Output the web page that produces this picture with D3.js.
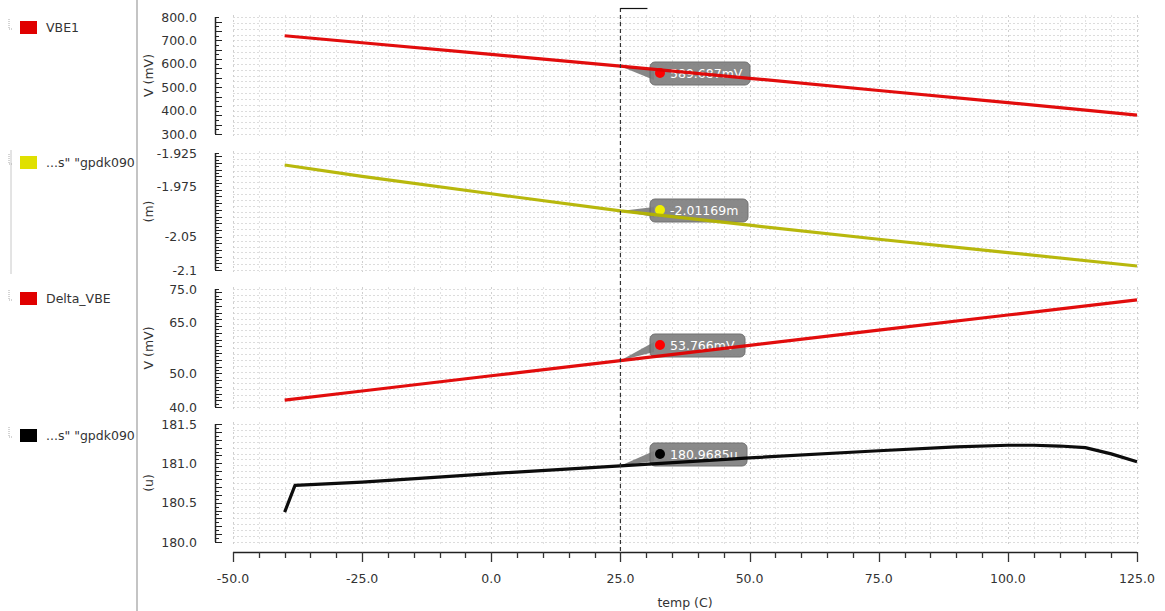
<!DOCTYPE html>
<html><head><meta charset="utf-8">
<script src="https://cdn.jsdelivr.net/npm/d3@7"></script>
<style>
body{margin:0;background:#fff;}
text{font-family:"DejaVu Sans",sans-serif;}
</style></head>
<body><svg id="c" width="1165" height="611"></svg>
<script>
// ---- data ----
const xTicks = [-50, -25, 0, 25, 50, 75, 100, 125];
const cursorTemp = 25;

const vbe1Temp = [-40, -25, 0, 25, 50, 75, 100, 125];
const vbe1 = [720, 690, 640, 589.687, 538, 486, 434, 381];

const slopeTemp = [-40, -25, 0, 25, 50, 75, 100, 125];
const slope = [-1.943, -1.960, -1.986, -2.01169, -2.033, -2.054, -2.074, -2.094];

const dvbeTemp = [-40, -25, 0, 25, 50, 75, 100, 125];
const dvbe = [42.04, 44.75, 49.26, 53.766, 58.27, 62.78, 67.29, 71.80];

const betaTemp = [-40, -38, -25, 0, 25, 50, 75, 90, 100, 105, 110, 115, 120, 125];
const beta = [180.38, 180.72, 180.76, 180.87, 180.9685, 181.07, 181.16, 181.21, 181.23, 181.23, 181.22, 181.20, 181.12, 181.02];

const legendNames = ["VBE1", "...s\" \"gpdk090", "Delta_VBE", "...s\" \"gpdk090"];
const yTitles = ["V (mV)", "(m)", "V (mV)", "(u)"];
const markerLabels = ["589.687mV", "-2.01169m", "53.766mV", "180.9685u"];
const yTickSets = [[800, 700, 600, 500, 400, 300], [-1.925, -1.975, -2.05, -2.1], [75, 65, 50, 40], [181.5, 181.0, 180.5, 180.0]];
const yTickLabels = [["800.0","700.0","600.0","500.0","400.0","300.0"], ["-1.925","-1.975","-2.05","-2.1"], ["75.0","65.0","50.0","40.0"], ["181.5","181.0","180.5","180.0"]];

// ---- layout ----
const svg = d3.select("#c");
const x = d3.scaleLinear().domain([-50, 125]).range([233, 1137]);
const panels = [
  {temp: vbe1Temp, vals: vbe1, domain: [300, 800], range: [134, 17], minor: 20, grid: 25, color: "#e00000", sq: "#e00000", dot: "#ff0000", legY: 28},
  {temp: slopeTemp, vals: slope, domain: [-2.1, -1.925], range: [270, 153], minor: 0.005, grid: 0.00875, color: "#b4b400", sq: "#e0e000", dot: "#f0f000", legY: 163},
  {temp: dvbeTemp, vals: dvbe, domain: [40, 75], range: [407, 289], minor: 1, grid: 1.75, color: "#e00000", sq: "#e00000", dot: "#ff0000", legY: 299},
  {temp: betaTemp, vals: beta, domain: [180, 181.5], range: [542, 424], minor: 0.05, grid: 0.075, color: "#000000", sq: "#000000", dot: "#000000", legY: 436}
];

// left separator
svg.append("line").attr("x1",137).attr("x2",137).attr("y1",0).attr("y2",611).attr("stroke","#b0b0b0").attr("stroke-width",1.5);
svg.append("line").attr("x1",11).attr("x2",11).attr("y1",150).attr("y2",274).attr("stroke","#c8c8c8");

const xMinor = d3.range(-50, 125.01, 5);

panels.forEach((p, i) => {
  const y = d3.scaleLinear().domain(p.domain).range(p.range);
  const g = svg.append("g");
  const top = p.range[1] - 2, bot = p.range[0] + 2;
  const nMin = Math.round((p.domain[1]-p.domain[0])/p.minor);
  const minorTicks = d3.range(0, nMin+1).map(k => p.domain[0] + k*p.minor);
  const nGrid = Math.round((p.domain[1]-p.domain[0])/p.grid);
  const hgrid = d3.range(0, nGrid+1).map(k => p.domain[0] + k*p.grid);
  g.selectAll(".hg").data(hgrid).join("line")
    .attr("x1", 233).attr("x2", 1140)
    .attr("y1", d => Math.round(y(d))+0.5).attr("y2", d => Math.round(y(d))+0.5)
    .attr("stroke", "#dcdcdc").attr("stroke-dasharray", "2,2").attr("stroke-width", 1);
  g.selectAll(".vg").data(xMinor).join("line")
    .attr("x1", d => Math.round(x(d))+0.5).attr("x2", d => Math.round(x(d))+0.5)
    .attr("y1", top).attr("y2", bot)
    .attr("stroke", d => d % 25 === 0 ? "#cfcfcf" : "#e2e2e2").attr("stroke-dasharray", "2,3");
  // y ruler
  g.append("line").attr("x1",215.5).attr("x2",215.5).attr("y1",p.range[1]).attr("y2",p.range[0]).attr("stroke","#222").attr("stroke-width",1.5);
  g.selectAll(".mt").data(minorTicks).join("line")
    .attr("x1", 215).attr("x2", (d,k) => k % 2 === 0 ? 222 : 219)
    .attr("y1", d => Math.round(y(d))+0.5).attr("y2", d => Math.round(y(d))+0.5)
    .attr("stroke", "#222").attr("stroke-width", 1);
  g.selectAll(".tl").data(yTickSets[i]).join("text")
    .attr("x", 197).attr("y", d => y(d)+4.5).attr("text-anchor","end")
    .attr("font-size", 12.5).attr("fill", "#333").text((d,k) => yTickLabels[i][k]);
  const cy = (p.range[0]+p.range[1])/2;
  g.append("text").attr("transform", `translate(153,${cy}) rotate(-90)`).attr("text-anchor","middle")
    .attr("font-size", 12.5).attr("fill","#333").text(yTitles[i]);
  // legend
  svg.append("path").attr("d", `M9,${p.legY-9}V${p.legY+1}H13`).attr("stroke","#aaa").attr("stroke-dasharray","1,1").attr("fill","none");
  svg.append("rect").attr("x",20).attr("y",p.legY-7).attr("width",17).attr("height",13).attr("fill",p.sq);
  svg.append("text").attr("x",46).attr("y",p.legY+4).attr("font-size",12.5).attr("fill","#333").text(legendNames[i]);
  // marker tooltip at cursor (drawn under trace)
  const k25 = p.temp.indexOf(cursorTemp);
  const mx = x(cursorTemp), my = y(p.vals[k25]);
  const bx = 650;
  const boxY = [62, 199, 334, 443][i];
  const bw = [100, 98, 95, 97][i];
  const tip = g.append("g");
  tip.append("path").attr("d", `M${mx},${my} L${bx+4},${boxY+8} L${bx+4},${boxY+18} Z`).attr("fill","#7a7a7a").attr("opacity",0.9);
  tip.append("rect").attr("x",bx).attr("y",boxY).attr("width",bw).attr("height",23).attr("rx",5)
    .attr("fill","#7f7f7f").attr("stroke","#666").attr("opacity",0.92);
  tip.append("circle").attr("cx",bx+10).attr("cy",boxY+11).attr("r",5).attr("fill",p.dot);
  tip.append("text").attr("x",bx+20).attr("y",boxY+16).attr("font-size",12.5).attr("fill","#fff").text(markerLabels[i]);
  // trace
  const line = d3.line().x((d,k) => x(p.temp[k])).y(d => y(d));
  g.append("path").datum(p.vals).attr("d", line).attr("fill","none")
    .attr("stroke", p.color).attr("stroke-width", 3.2).attr("stroke-linejoin","round")
    .attr("opacity", 0.95);
});

// x axis
const xAxisY = 552;
svg.append("line").attr("x1",233).attr("x2",1137).attr("y1",xAxisY+0.5).attr("y2",xAxisY+0.5).attr("stroke","#222").attr("stroke-width",1.5);
svg.selectAll(".xt").data(xMinor).join("line")
  .attr("x1", d => Math.round(x(d))+0.5).attr("x2", d => Math.round(x(d))+0.5)
  .attr("y1", xAxisY).attr("y2", d => d % 25 === 0 ? xAxisY+10 : xAxisY+6)
  .attr("stroke","#333").attr("stroke-width",1.3);
svg.selectAll(".xl").data(xTicks).join("text")
  .attr("x", d => x(d)).attr("y", 583).attr("text-anchor","middle")
  .attr("font-size",12.5).attr("fill","#333").text(d => d.toFixed(1));
svg.append("text").attr("x",685).attr("y",607).attr("text-anchor","middle").attr("font-size",12.5).attr("fill","#333").text("temp (C)");

// cursor line
svg.append("line").attr("x1",x(cursorTemp)).attr("x2",x(cursorTemp)).attr("y1",8).attr("y2",xAxisY)
  .attr("stroke","#333").attr("stroke-dasharray","4,3").attr("stroke-width",1.2);
svg.append("line").attr("x1",x(cursorTemp)).attr("x2",x(cursorTemp)+27).attr("y1",8.5).attr("y2",8.5).attr("stroke","#111").attr("stroke-width",1.2);
</script></body></html>
